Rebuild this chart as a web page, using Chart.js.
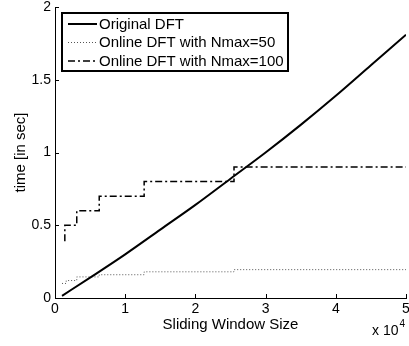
<!DOCTYPE html>
<html>
<head>
<meta charset="utf-8">
<script src="https://cdn.jsdelivr.net/npm/chart.js@4.4.1/dist/chart.umd.min.js"></script>
<style>
  html, body { margin: 0; padding: 0; background: #fff; }
  #wrap { width: 409px; height: 346px; }
</style>
</head>
<body>
<div id="wrap"><canvas id="dftChart"></canvas></div>
<script>
// window sizes (samples) and times in seconds
const windowSizes = [1000, 5000, 10000, 15000, 20000, 25000, 30000, 35000, 40000, 45000, 50000];
const originalDft = [0.015, 0.14, 0.30, 0.47, 0.64, 0.82, 1.00, 1.19, 1.39, 1.60, 1.81];

// the online versions are step shaped, so they get their own x positions
const stepSizes50 = [1000, 1600, 3100, 6300, 12700, 25500, 50000];
const onlineDft50 = [0.10, 0.12, 0.145, 0.16, 0.18, 0.195, 0.205];
const stepSizes100 = [1400, 1400, 3100, 6300, 12700, 25500, 50000];
const onlineDft100 = [0.39, 0.50, 0.60, 0.70, 0.80, 0.90, 0.90];

const seriesLabels = ['Original DFT', 'Online DFT with Nmax=50', 'Online DFT with Nmax=100'];
const xTickLabels = ['0', '1', '2', '3', '4', '5'];
const yTickLabels = ['0', '0.5', '1', '1.5', '2'];
const xAxisTitle = 'Sliding Window Size';
const yAxisTitle = 'time [in sec]';
const xExponent = '4';

const FONT = "'Liberation Sans', Arial, Helvetica, sans-serif";
Chart.defaults.font.family = FONT;
Chart.defaults.color = '#000';

function toPoints(xs, ys) {
  return xs.map((x, i) => ({ x: x, y: ys[i] }));
}

// matlab style ticks pointing into the plot
const inwardTicks = {
  id: 'inwardTicks',
  afterDraw(chart) {
    const ctx = chart.ctx;
    const area = chart.chartArea;
    const xs = chart.scales.x, ys = chart.scales.y;
    ctx.save();
    ctx.strokeStyle = '#000';
    ctx.lineWidth = 1;
    ctx.beginPath();
    xs.ticks.forEach((t, i) => {
      const px = Math.round(xs.getPixelForTick(i)) + 0.5;
      ctx.moveTo(px, area.bottom);
      ctx.lineTo(px, area.bottom - 4);
    });
    ys.ticks.forEach((t, i) => {
      const py = Math.round(ys.getPixelForTick(i)) + 0.5;
      ctx.moveTo(area.left, py);
      ctx.lineTo(area.left + 4, py);
    });
    ctx.stroke();
    ctx.restore();
  }
};

// boxed legend in the top left corner of the plot
const boxLegend = {
  id: 'boxLegend',
  afterDraw(chart) {
    const ctx = chart.ctx;
    const area = chart.chartArea;
    const left = area.left + 7, top = area.top + 6;
    const w = 226, h = 58;
    ctx.save();
    ctx.fillStyle = '#fff';
    ctx.fillRect(left, top, w, h);
    ctx.strokeStyle = '#000';
    ctx.lineWidth = 2;
    ctx.strokeRect(left, top, w, h);
    const rows = [top + 11, top + 29.5, top + 48];
    chart.data.datasets.forEach((ds, i) => {
      const y = rows[i];
      ctx.strokeStyle = ds.borderColor;
      ctx.lineWidth = ds.borderWidth;
      ctx.setLineDash(ds.borderDash || []);
      ctx.beginPath();
      ctx.moveTo(left + 6, y);
      ctx.lineTo(left + 35, y);
      ctx.stroke();
      ctx.setLineDash([]);
      ctx.fillStyle = '#000';
      ctx.font = '15px ' + FONT;
      ctx.textBaseline = 'middle';
      ctx.textAlign = 'left';
      ctx.fillText(ds.label, left + 37, y + 0.5);
    });
    ctx.restore();
  }
};

// "x 10^4" under the right end of the x axis
const axisExponent = {
  id: 'axisExponent',
  afterDraw(chart) {
    const ctx = chart.ctx;
    const area = chart.chartArea;
    ctx.save();
    ctx.fillStyle = '#000';
    ctx.textBaseline = 'alphabetic';
    ctx.textAlign = 'left';
    ctx.font = '14px ' + FONT;
    const base = area.bottom + 37;
    const x0 = area.right - 34;
    ctx.fillText('x 10', x0, base);
    const w = ctx.measureText('x 10').width;
    ctx.font = '10px ' + FONT;
    ctx.fillText(xExponent, x0 + w + 1, base - 8);
    ctx.restore();
  }
};

new Chart(document.getElementById('dftChart'), {
  type: 'line',
  data: {
    datasets: [
      {
        label: seriesLabels[0],
        data: toPoints(windowSizes, originalDft),
        borderColor: '#000',
        borderWidth: 2,
        pointRadius: 0,
        cubicInterpolationMode: 'monotone',
        fill: false
      },
      {
        label: seriesLabels[1],
        data: toPoints(stepSizes50, onlineDft50),
        borderColor: '#555',
        borderWidth: 1,
        borderDash: [1, 2],
        pointRadius: 0,
        stepped: 'before',
        fill: false
      },
      {
        label: seriesLabels[2],
        data: toPoints(stepSizes100, onlineDft100),
        borderColor: '#000',
        borderWidth: 1.5,
        borderDash: [7, 3, 2, 3],
        pointRadius: 0,
        stepped: 'before',
        fill: false
      }
    ]
  },
  options: {
    responsive: true,
    maintainAspectRatio: false,
    animation: false,
    layout: { padding: { left: 0, right: 3, top: 7, bottom: 0 } },
    plugins: {
      legend: { display: false },
      tooltip: { enabled: false }
    },
    scales: {
      x: {
        type: 'linear',
        min: 0,
        max: 50000,
        grid: { display: false, drawTicks: false },
        border: { display: true, color: '#000', width: 1 },
        ticks: {
          stepSize: 10000,
          padding: 3,
          maxRotation: 0,
          font: { size: 14 },
          callback: (v, i) => xTickLabels[i]
        },
        title: {
          display: true,
          text: xAxisTitle,
          font: { size: 15 },
          padding: { top: 0, bottom: 12 }
        },
        afterFit(s) {
          s.height = 48;
          s.paddingLeft = 0;
          s.paddingRight = 0;
        }
      },
      y: {
        type: 'linear',
        min: 0,
        max: 2,
        grid: { display: false, drawTicks: false },
        border: { display: true, color: '#000', width: 1 },
        ticks: {
          stepSize: 0.5,
          padding: 4,
          font: { size: 14 },
          callback: (v, i) => yTickLabels[i]
        },
        title: {
          display: true,
          text: yAxisTitle,
          font: { size: 15 },
          padding: { top: 12, bottom: 0 }
        },
        afterFit(s) {
          s.width = 55;
          s.paddingTop = 0;
          s.paddingBottom = 0;
        }
      }
    }
  },
  plugins: [inwardTicks, boxLegend, axisExponent]
});
</script>
</body>
</html>
